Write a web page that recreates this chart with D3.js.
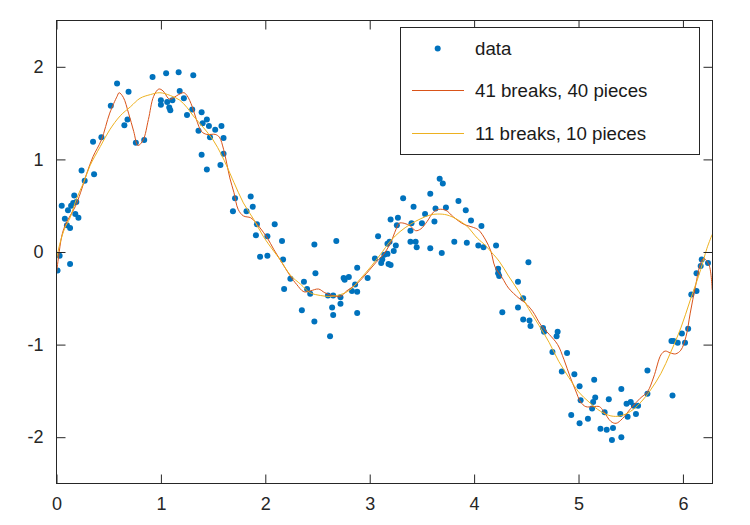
<!DOCTYPE html>
<html>
<head>
<meta charset="utf-8">
<script src="https://cdn.jsdelivr.net/npm/d3@7"></script>
<style>
  html, body { margin: 0; padding: 0; background: #fff; }
  svg { display: block; }
  text { font-family: "Liberation Sans", Arial, Helvetica, sans-serif; }
</style>
</head>
<body>
<svg id="chart" width="750" height="525"></svg>
<script>
const xTicks = [0, 1, 2, 3, 4, 5, 6];
const yTicks = [-2, -1, 0, 1, 2];
const legendLabels = ["data", "41 breaks, 40 pieces", "11 breaks, 10 pieces"];

const dataX = [0.01,0.03,0.05,0.08,0.10,0.11,0.13,0.13,0.14,0.16,
  0.17,0.18,0.19,0.21,0.24,0.27,0.35,0.36,0.43,0.52,
  0.58,0.65,0.68,0.69,0.76,0.84,0.92,1.00,1.00,1.05,
  1.06,1.08,1.09,1.11,1.17,1.18,1.22,1.25,1.30,1.31,
  1.36,1.39,1.39,1.40,1.44,1.44,1.46,1.47,1.52,1.57,
  1.58,1.60,1.60,1.69,1.71,1.82,1.86,1.88,1.91,1.92,
  1.95,2.02,2.02,2.09,2.16,2.17,2.18,2.24,2.35,2.37,
  2.40,2.43,2.47,2.47,2.48,2.60,2.62,2.64,2.65,2.65,
  2.68,2.72,2.72,2.75,2.76,2.80,2.83,2.86,2.88,2.88,
  2.88,2.98,3.05,3.08,3.11,3.12,3.14,3.17,3.17,3.18,
  3.19,3.20,3.20,3.23,3.25,3.26,3.27,3.32,3.39,3.39,
  3.40,3.42,3.44,3.45,3.50,3.53,3.58,3.58,3.62,3.63,
  3.67,3.69,3.70,3.73,3.81,3.85,3.92,3.93,3.97,4.04,
  4.07,4.09,4.21,4.23,4.23,4.24,4.27,4.42,4.42,4.47,
  4.47,4.52,4.53,4.54,4.66,4.67,4.75,4.79,4.80,4.84,
  4.89,4.93,4.96,5.01,5.01,5.02,5.09,5.13,5.14,5.15,
  5.16,5.21,5.25,5.27,5.29,5.32,5.33,5.40,5.41,5.41,
  5.46,5.47,5.50,5.53,5.55,5.57,5.66,5.66,5.89,5.90,
  5.91,5.95,5.99,6.02,6.05,6.08,6.13,6.13,6.17,6.18,
  6.24];
const dataY = [-0.20,-0.04,0.50,0.36,0.29,0.45,-0.13,0.26,0.50,0.53,
  0.61,0.41,0.54,0.37,0.88,0.77,1.19,0.84,1.24,1.58,
  1.82,1.37,1.43,1.73,1.18,1.21,1.89,1.64,1.59,1.93,
  1.62,1.56,1.53,1.64,1.94,1.74,1.66,1.48,1.54,1.91,
  1.31,1.51,1.05,1.39,0.89,1.43,1.36,1.24,1.32,0.94,
  1.36,1.23,1.06,0.44,0.58,0.44,0.60,0.49,0.18,0.30,
  -0.05,-0.04,0.17,0.30,0.12,-0.08,-0.40,-0.29,-0.63,-0.32,
  -0.40,-0.45,0.08,-0.75,-0.23,-0.47,-0.91,-0.60,-0.47,-0.68,
  0.12,-0.49,-0.56,-0.28,-0.30,-0.27,-0.42,-0.35,-0.66,-0.43,
  -0.17,-0.28,-0.07,0.17,-0.12,-0.08,-0.03,-0.02,0.09,-0.13,
  0.11,-0.14,0.35,0.01,0.07,0.29,0.37,0.58,0.11,0.23,
  0.31,0.49,0.11,0.05,0.31,0.41,0.04,0.63,0.33,0.47,
  0.79,-0.01,0.74,0.48,0.11,0.55,0.45,0.10,0.34,0.07,
  0.28,0.05,0.07,-0.18,-0.23,-0.26,-0.65,-0.32,-0.60,-0.73,
  -0.50,-0.11,-0.74,-0.80,-0.82,-0.86,-1.08,-0.91,-0.86,-1.29,
  -1.09,-1.76,-1.32,-1.45,-1.85,-1.60,-1.80,-1.69,-1.62,-1.38,
  -1.57,-1.91,-1.73,-1.92,-1.59,-2.03,-1.90,-1.75,-1.48,-2.00,
  -1.64,-1.78,-1.62,-1.66,-1.75,-1.66,-1.53,-1.28,-0.96,-1.55,
  -0.96,-0.98,-0.88,-0.98,-0.83,-0.46,-0.42,-0.23,-0.15,-0.08,
  -0.12];

const fit41X = [0,0.02,0.05,0.08,0.13,0.18,0.23,0.29,0.35,0.43,
  0.51,0.58,0.60,0.64,0.69,0.74,0.78,0.83,0.88,0.93,
  0.98,1.02,1.07,1.09,1.17,1.22,1.25,1.30,1.34,1.39,
  1.44,1.52,1.56,1.60,1.63,1.66,1.70,1.74,1.79,1.86,
  1.90,1.95,2.02,2.08,2.14,2.24,2.30,2.37,2.43,2.51,
  2.57,2.64,2.72,2.78,2.88,2.97,3.07,3.13,3.20,3.25,
  3.28,3.33,3.39,3.44,3.49,3.55,3.61,3.66,3.73,3.80,
  3.90,3.98,4.04,4.11,4.16,4.20,4.27,4.33,4.43,4.49,
  4.56,4.64,4.72,4.80,4.86,4.92,4.97,5.02,5.07,5.14,
  5.20,5.24,5.31,5.36,5.42,5.50,5.59,5.66,5.72,5.79,
  5.83,5.88,5.93,5.98,6.03,6.07,6.12,6.17,6.20,6.25,
  6.28];
const fit41Y = [-0.23,-0.05,0.17,0.28,0.39,0.49,0.64,0.85,1.03,1.21,
  1.50,1.68,1.72,1.67,1.50,1.30,1.15,1.21,1.43,1.68,
  1.76,1.74,1.66,1.65,1.70,1.72,1.69,1.57,1.43,1.30,
  1.27,1.27,1.24,1.11,0.96,0.80,0.64,0.46,0.39,0.37,
  0.33,0.26,0.15,0.03,-0.08,-0.26,-0.35,-0.43,-0.42,-0.40,
  -0.44,-0.47,-0.48,-0.42,-0.34,-0.23,-0.10,-0.03,0.10,0.24,
  0.31,0.31,0.28,0.23,0.25,0.33,0.43,0.46,0.45,0.38,
  0.30,0.27,0.24,0.13,0.01,-0.16,-0.28,-0.39,-0.50,-0.55,
  -0.64,-0.79,-0.89,-1.00,-1.16,-1.35,-1.49,-1.62,-1.67,-1.67,
  -1.67,-1.72,-1.83,-1.85,-1.80,-1.69,-1.58,-1.51,-1.35,-1.11,
  -1.07,-1.09,-1.10,-1.06,-0.91,-0.66,-0.37,-0.12,-0.07,-0.14,
  -0.41];

const fit11X = [0,0.03,0.08,0.13,0.19,0.26,0.32,0.42,0.51,0.61,
  0.71,0.80,0.90,0.99,1.09,1.18,1.25,1.31,1.41,1.50,
  1.58,1.63,1.70,1.79,1.89,1.98,2.08,2.14,2.24,2.34,
  2.43,2.53,2.62,2.72,2.81,2.91,3.01,3.10,3.20,3.29,
  3.39,3.49,3.58,3.65,3.74,3.84,3.93,4.03,4.11,4.14,
  4.24,4.33,4.43,4.52,4.62,4.72,4.81,4.91,5.00,5.10,
  5.21,5.31,5.40,5.50,5.59,5.69,5.79,5.88,5.98,6.07,
  6.17,6.23,6.28];
const fit11Y = [-0.08,0.08,0.26,0.37,0.57,0.75,0.93,1.14,1.32,1.47,
  1.57,1.66,1.70,1.72,1.69,1.64,1.56,1.47,1.34,1.21,
  1.05,0.93,0.75,0.53,0.35,0.17,0.01,-0.08,-0.25,-0.35,
  -0.44,-0.47,-0.48,-0.46,-0.41,-0.29,-0.16,-0.03,0.12,0.22,
  0.30,0.36,0.40,0.41,0.40,0.35,0.28,0.15,0.07,0.03,
  -0.10,-0.26,-0.43,-0.61,-0.79,-0.98,-1.18,-1.36,-1.51,-1.62,
  -1.72,-1.77,-1.77,-1.72,-1.63,-1.49,-1.31,-1.09,-0.82,-0.52,
  -0.19,0.04,0.19];

const colData = "#0072BD", col41 = "#D95319", col11 = "#EDB120", axisCol = "#262626";

const svg = d3.select("#chart");
const L = 56.5, R = 712.5, T = 20.5, B = 483.5;
const x = d3.scaleLinear().domain([0, 2 * Math.PI]).range([L, R]);
const y = d3.scaleLinear().domain([-2.5, 2.5]).range([B, T]);

svg.append("defs").append("clipPath").attr("id", "clip")
  .append("rect").attr("x", L).attr("y", T).attr("width", R - L).attr("height", B - T);

const plot = svg.append("g").attr("clip-path", "url(#clip)");

// data dots
plot.append("g").selectAll("circle").data(dataX.map((d, i) => [d, dataY[i]]))
  .join("circle")
  .attr("cx", d => x(d[0])).attr("cy", d => y(d[1])).attr("r", 3)
  .attr("fill", colData);

const line = d3.line().x(d => x(d[0])).y(d => y(d[1])).curve(d3.curveCatmullRom.alpha(0.5));
plot.append("path").datum(fit41X.map((d, i) => [d, fit41Y[i]]))
  .attr("d", line).attr("fill", "none").attr("stroke", col41).attr("stroke-width", 1);
plot.append("path").datum(fit11X.map((d, i) => [d, fit11Y[i]]))
  .attr("d", line).attr("fill", "none").attr("stroke", col11).attr("stroke-width", 1);

// axes
function styleAxis(g) {
  g.select(".domain").remove();
  g.selectAll("line").attr("stroke", axisCol);
  g.selectAll("text").attr("fill", axisCol).style("font-size", "18px")
    .style("font-family", '"Liberation Sans", Arial, sans-serif');
}
const fmt = d => String(d);
svg.append("g").attr("transform", `translate(0,${B})`)
  .call(d3.axisBottom(x).tickValues(xTicks).tickFormat(fmt).tickSize(-9).tickPadding(13.5))
  .call(styleAxis);
svg.append("g").attr("transform", `translate(0,${T})`)
  .call(d3.axisTop(x).tickValues(xTicks).tickFormat("").tickSize(-9))
  .call(styleAxis);
svg.append("g").attr("transform", `translate(${L},0)`)
  .call(d3.axisLeft(y).tickValues(yTicks).tickFormat(fmt).tickSize(-9).tickPadding(13))
  .call(styleAxis);
svg.append("g").attr("transform", `translate(${R},0)`)
  .call(d3.axisRight(y).tickValues(yTicks).tickFormat("").tickSize(-9))
  .call(styleAxis);

svg.append("rect").attr("x", L).attr("y", T).attr("width", R - L).attr("height", B - T)
  .attr("fill", "none").attr("stroke", axisCol).attr("stroke-width", 1);

// legend
const lg = svg.append("g");
lg.append("rect").attr("x", 400.5).attr("y", 27.5).attr("width", 299).attr("height", 127)
  .attr("fill", "#fff").attr("stroke", axisCol).attr("stroke-width", 1);
const rowY = [48.5, 90.5, 133.5];
lg.append("circle").attr("cx", 437.7).attr("cy", rowY[0]).attr("r", 3).attr("fill", colData);
lg.append("line").attr("x1", 412).attr("x2", 464).attr("y1", rowY[1]).attr("y2", rowY[1])
  .attr("stroke", col41).attr("stroke-width", 1);
lg.append("line").attr("x1", 412).attr("x2", 464).attr("y1", rowY[2]).attr("y2", rowY[2])
  .attr("stroke", col11).attr("stroke-width", 1);
lg.selectAll("text.lab").data(legendLabels).join("text").attr("class", "lab")
  .attr("x", 475).attr("y", (d, i) => rowY[i] + 6.7)
  .attr("fill", "#1a1a1a").style("font-size", "18.7px").text(d => d);
</script>
</body>
</html>
